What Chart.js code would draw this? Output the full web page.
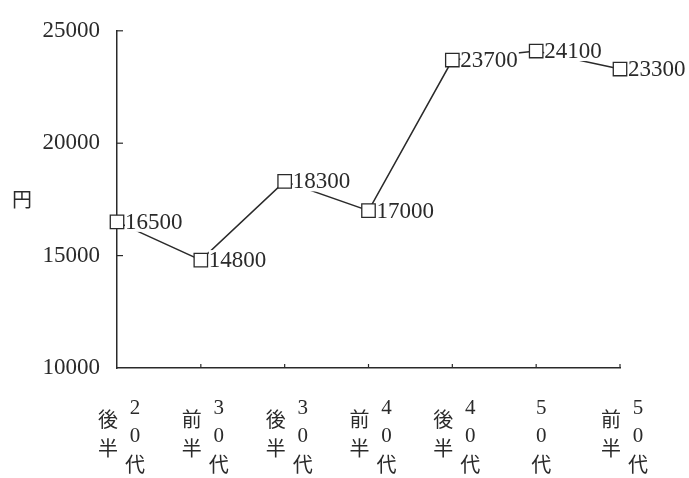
<!DOCTYPE html>
<html>
<head>
<meta charset="utf-8">
<script src="https://cdn.jsdelivr.net/npm/chart.js@4/dist/chart.umd.min.js"></script>
<style>
  body { margin: 0; background: #fff; }
</style>
</head>
<body>
<canvas id="chart" width="689" height="478"></canvas>
<script>
// data
const categories = ['20代後半', '30代前半', '30代後半', '40代前半', '40代後半', '50代', '50代前半'];
const values = [16500, 14800, 18300, 17000, 23700, 24100, 23300];
const yTicks = [10000, 15000, 20000, 25000];
const yTitle = '円';

const ink = '#2a2a2a';
const serif = '"Liberation Serif", "DejaVu Serif", serif';
const cjk = '"Noto Sans CJK JP", sans-serif';

// extra drawing: inner ticks, stacked x labels, y title, value labels
const decorations = {
    id: 'decorations',
    afterDatasetsDraw(chart) {
        const ctx = chart.ctx;
        const area = chart.chartArea;
        const x = chart.scales.x;
        const y = chart.scales.y;
        ctx.save();
        ctx.strokeStyle = ink;
        ctx.lineWidth = 1.2;

        // short ticks pointing into the plot
        yTicks.slice(1).forEach(v => {
            const py = y.getPixelForValue(v);
            ctx.beginPath();
            ctx.moveTo(area.left, py);
            ctx.lineTo(area.left + 6, py);
            ctx.stroke();
        });
        categories.forEach((c, i) => {
            if (i === 0) return;
            const px = x.getPixelForValue(i);
            ctx.beginPath();
            ctx.moveTo(px, area.bottom);
            ctx.lineTo(px, area.bottom - 4);
            ctx.stroke();
        });

        // value labels with white backing so the line stops at them
        const meta = chart.getDatasetMeta(0);
        ctx.font = '23px ' + serif;
        ctx.textBaseline = 'middle';
        ctx.textAlign = 'left';
        meta.data.forEach((pt, i) => {
            const txt = String(values[i]);
            const w = ctx.measureText(txt).width;
            const tx = pt.x + 8;
            ctx.fillStyle = '#fff';
            ctx.fillRect(tx, pt.y - 10, w + 1, 20);
            ctx.fillStyle = ink;
            ctx.fillText(txt, tx, pt.y + 1);
        });

        // category labels: half (前半/後半) on the left, decade stacked on the right
        ctx.textAlign = 'center';
        categories.forEach((c, i) => {
            const px = x.getPixelForValue(i);
            const decade = c.match(/^\d+代/)[0];
            const half = c.slice(decade.length);
            const dx = half ? 18 : 5;
            decade.split('').forEach((ch, k) => {
                ctx.font = (/\d/.test(ch) ? '21px ' + serif : '20px ' + cjk);
                ctx.fillText(ch, px + dx, 408 + k * 28);
            });
            if (half) {
                ctx.font = '20px ' + cjk;
                half.split('').forEach((ch, k) => {
                    ctx.fillText(ch, px - 9, 419 + k * 29);
                });
            }
        });

        // y title, horizontal
        ctx.font = '20px ' + cjk;
        ctx.fillText(yTitle, 22, (area.top + area.bottom) / 2);
        ctx.restore();
    }
};

new Chart(document.getElementById('chart'), {
    type: 'line',
    data: {
        labels: categories,
        datasets: [{
            data: values,
            borderColor: ink,
            borderWidth: 1.5,
            tension: 0,
            pointStyle: 'rect',
            pointRadius: 9.5,
            pointBackgroundColor: '#fff',
            pointBorderColor: ink,
            pointBorderWidth: 1.3,
            clip: false
        }]
    },
    options: {
        responsive: false,
        animation: false,
        events: [],
        layout: { padding: { left: 0, top: 27, right: 69, bottom: 110 } },
        plugins: {
            legend: { display: false },
            tooltip: { enabled: false }
        },
        scales: {
            x: {
                offset: false,
                ticks: { display: false },
                grid: { display: true, drawOnChartArea: false, drawTicks: false },
                border: { display: true, color: ink, width: 1.5 },
                afterFit: s => { s.height = 0; }
            },
            y: {
                min: yTicks[0],
                max: yTicks[yTicks.length - 1],
                afterBuildTicks: s => { s.ticks = yTicks.map(v => ({ value: v })); },
                ticks: {
                    padding: 17,
                    color: ink,
                    font: { family: serif, size: 23 },
                    callback: v => String(v)
                },
                grid: { display: true, drawOnChartArea: false, drawTicks: false },
                border: { display: true, color: ink, width: 1.5 },
                afterFit: s => { s.width = 117; }
            }
        }
    },
    plugins: [decorations]
});
</script>
</body>
</html>
